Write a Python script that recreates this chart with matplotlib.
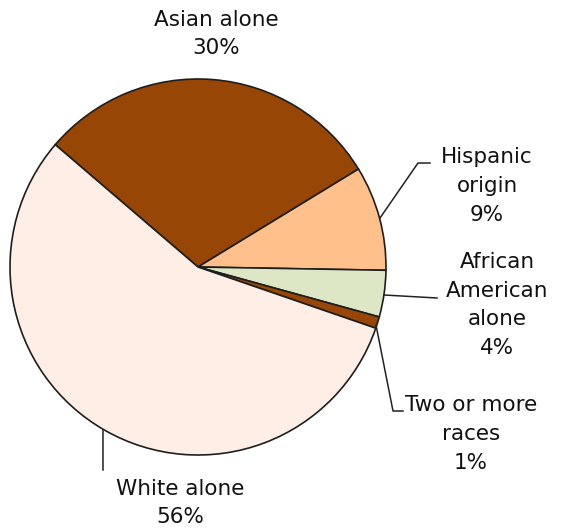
import matplotlib
matplotlib.use("Agg")
import matplotlib.pyplot as plt

# slices in clockwise order starting at the Asian/White boundary
labels = ["Asian alone", "Hispanic\norigin", "African\nAmerican\nalone", "Two or more\nraces", "White alone"]
shares = [30, 9, 4, 1, 56]
colors = ["#984605", "#ffc08c", "#dde7c6", "#984605", "#ffeee5"]

W, H = 566, 529
fig = plt.figure(figsize=(W / 100, H / 100), dpi=100)
ax = fig.add_axes([0, 0, 1, 1])

cx, cy, r = 198, 267, 188
# y axis is inverted, so counterclock=True draws clockwise on screen
wedges, _ = ax.pie(shares, colors=colors, startangle=-139.4, counterclock=True,
                   center=(cx, cy), radius=r, frame=True,
                   wedgeprops=dict(edgecolor="#1e1e1e", linewidth=1.2))
ax.set_xlim(0, W)
ax.set_ylim(H, 0)
ax.axis("off")
ax.set_aspect("equal")

fs = 15.5
font = dict(fontsize=fs, family="DejaVu Sans", color="#111111", ha="center", va="center",
            linespacing=1.55)
ax.text(216, 34, labels[0] + "\n" + f"{shares[0]}%", **font)
ax.text(487, 186, labels[1] + "\n" + f"{shares[1]}%", **font)
ax.text(497, 305, labels[2] + "\n" + f"{shares[2]}%", **font)
ax.text(471, 434, labels[3] + "\n" + f"{shares[3]}%", **font)
ax.text(180, 503, labels[4] + "\n" + f"{shares[4]}%", **font)

lc = dict(color="#222222", linewidth=1.1)
ax.plot([380, 418, 430], [218, 163, 163], **lc)
ax.plot([384, 437], [295, 298], **lc)
ax.plot([376, 393, 403], [325, 411, 411], **lc)
ax.plot([103, 103], [430, 470], **lc)

fig.savefig("out.png", dpi=100)
